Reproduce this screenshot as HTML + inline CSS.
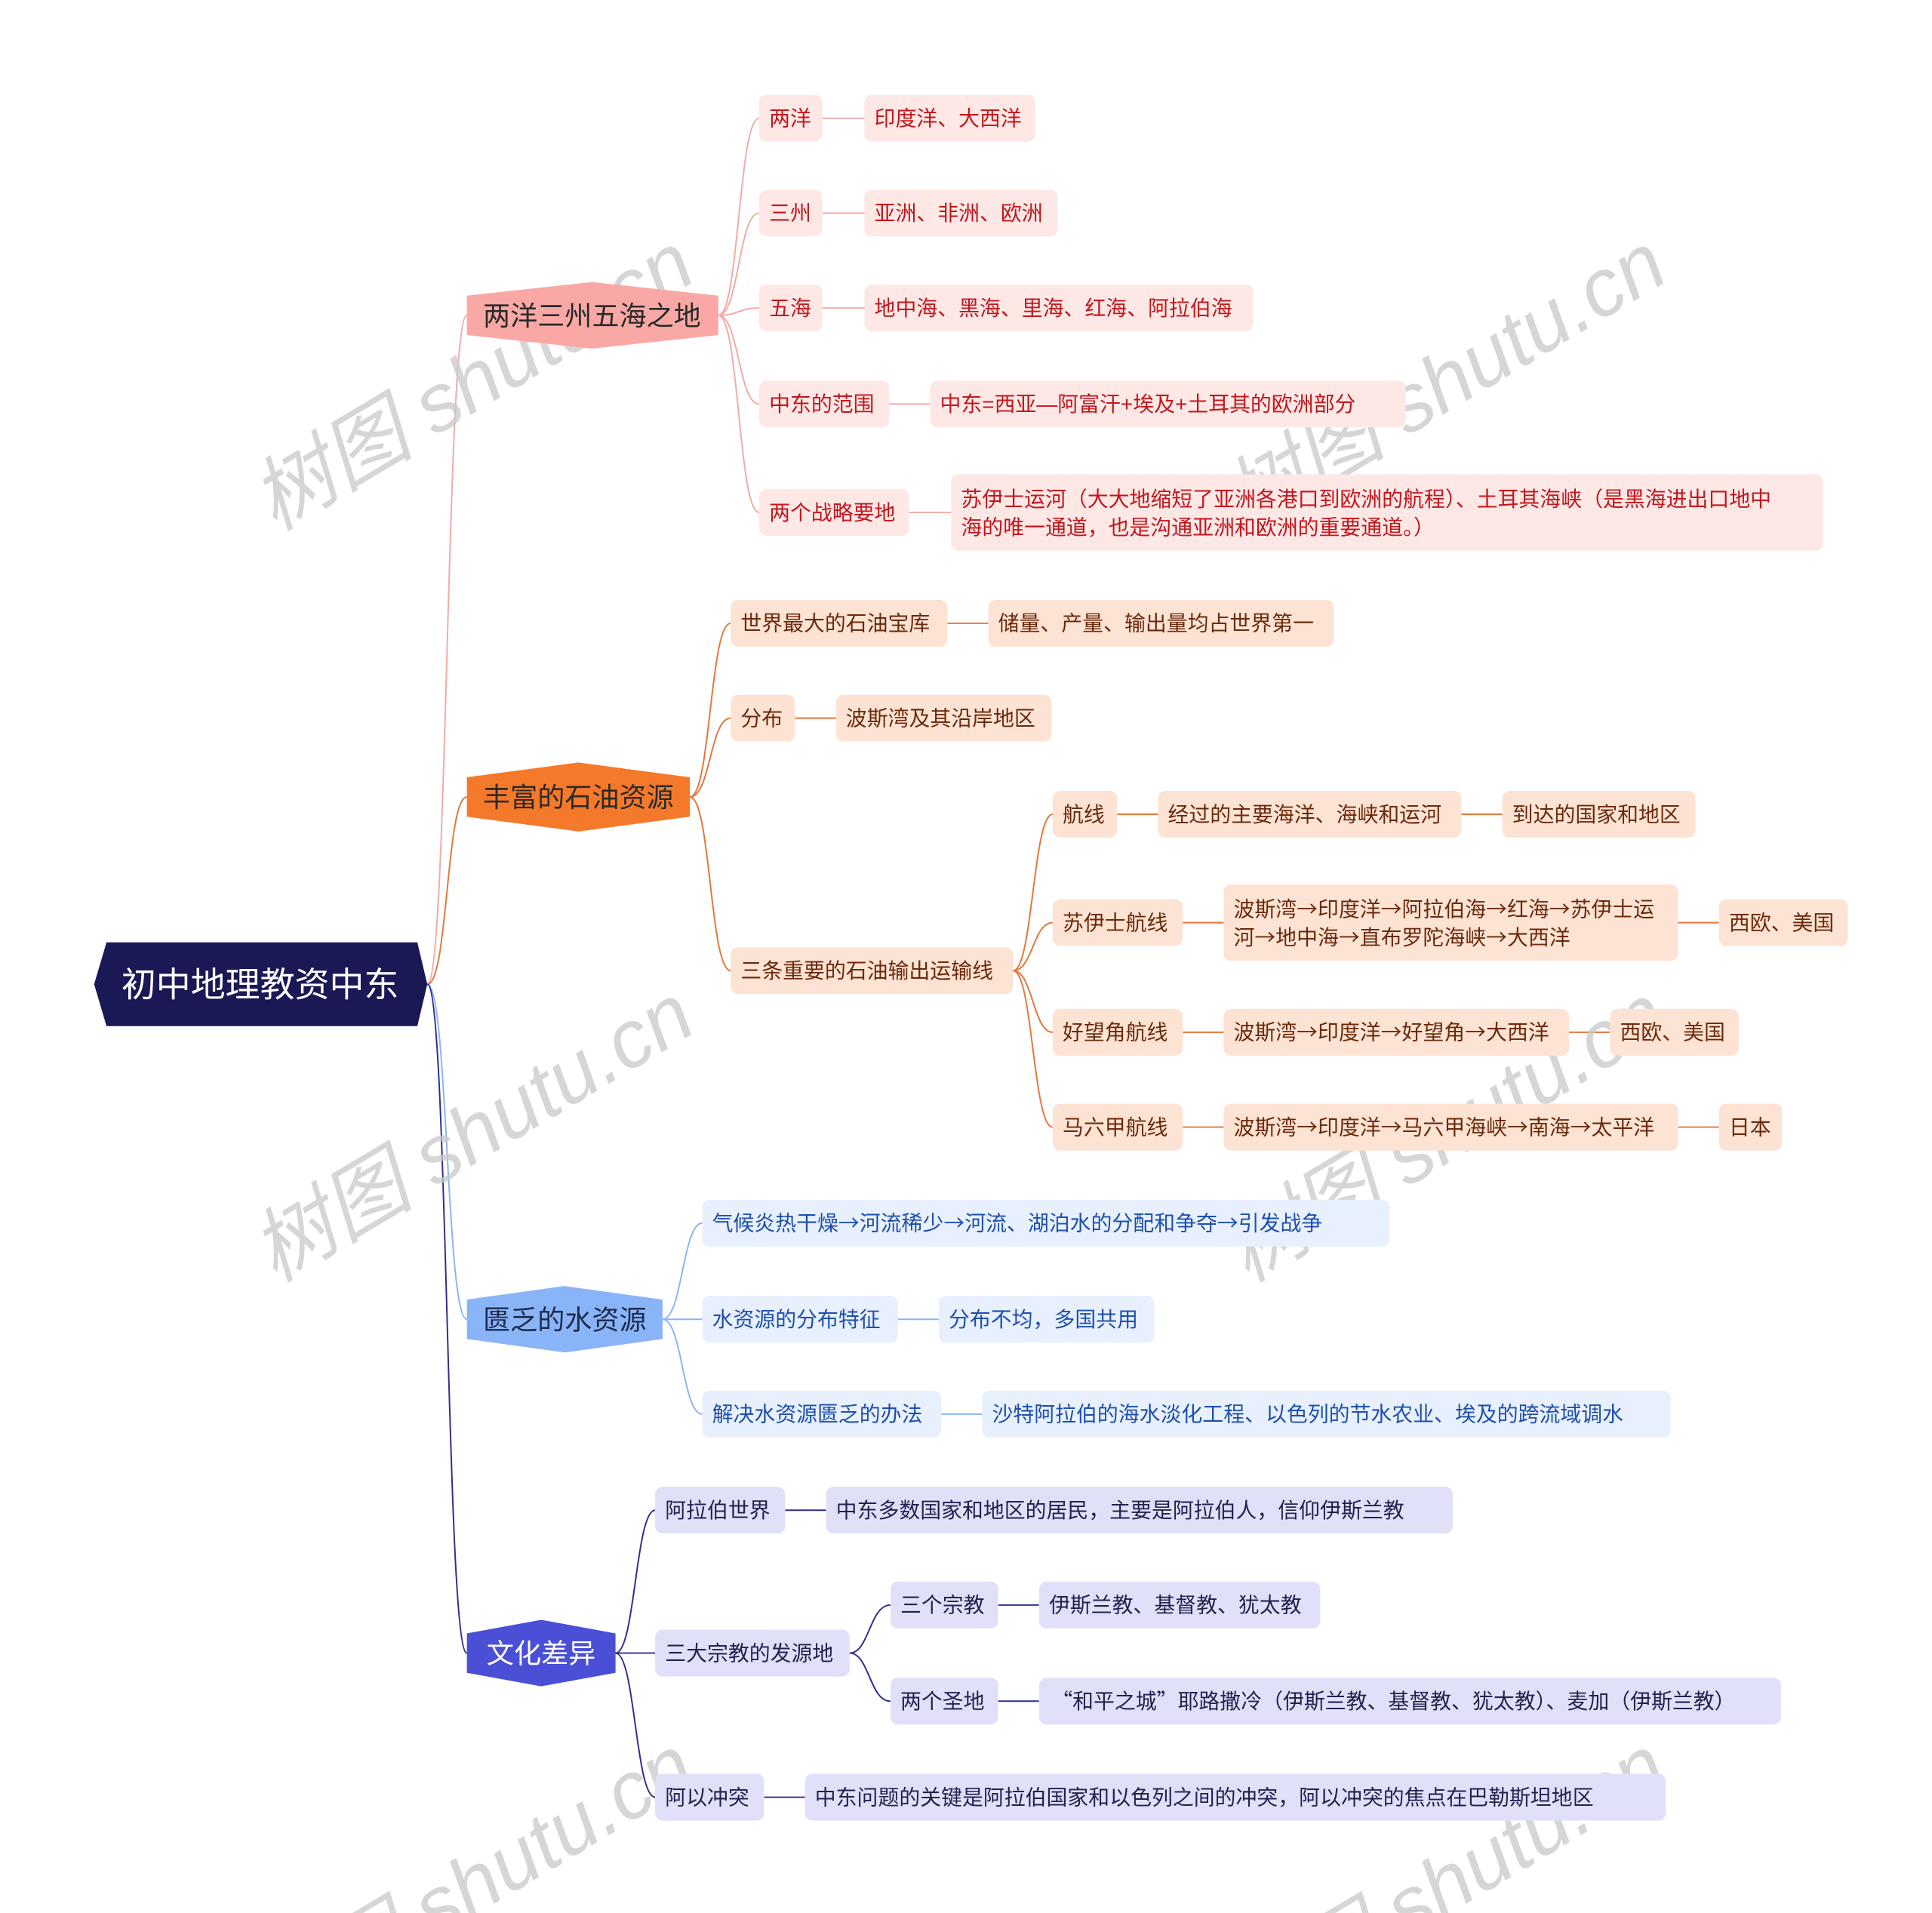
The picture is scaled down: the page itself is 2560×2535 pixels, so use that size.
<!DOCTYPE html>
<html><head><meta charset="utf-8"><style>
html,body{margin:0;padding:0;background:#fff;width:2560px;height:2535px;overflow:hidden;}
svg{display:block;overflow:hidden;}
text{font-family:"Liberation Sans","Noto Sans CJK SC",sans-serif;}
.cj{font-family:"Noto Sans CJK SC",sans-serif;}
</style></head><body>
<svg width="2560" height="2535" viewBox="0 0 1560 1553" preserveAspectRatio="none" xmlns="http://www.w3.org/2000/svg">
<g fill="none" stroke-width="1.2">
<path d="M345,799 C362,799 360,256 377,256" stroke="#f4aaa6"/>
<path d="M345,799 C362,799 360,647 377,647" stroke="#e5763a"/>
<path d="M345,799 C362,799 360,1071 377,1071" stroke="#8ab4f8"/>
<path d="M345,799 C362,799 360,1342 377,1342" stroke="#2e2e90"/>
<g stroke="#f4aaa6">
<path d="M580,256 C597,256 596,96 613,96"/>
<path d="M580,256 C597,256 596,173 613,173"/>
<path d="M580,256 C597,256 596,250 613,250"/>
<path d="M580,256 C597,256 596,328 613,328"/>
<path d="M580,256 C597,256 596,416 613,416"/>
<path d="M664,96 H698 M664,173 H698 M664,250 H698 M718,328 H751 M734,416 H768"/>
</g>
<g stroke="#e5763a">
<path d="M557,647 C574,647 573,506 590,506"/>
<path d="M557,647 C574,647 573,583 590,583"/>
<path d="M557,647 C574,647 573,788 590,788"/>
<path d="M765,506 H798 M642,583 H675"/>
<path d="M818,788 C834,788 834,661 850,661"/>
<path d="M818,788 C834,788 834,749 850,749"/>
<path d="M818,788 C834,788 834,838 850,838"/>
<path d="M818,788 C834,788 834,915 850,915"/>
<path d="M902,661 H935 M1180,661 H1213 M955,749 H988 M1355,749 H1388 M955,838 H988 M1267,838 H1300 M955,915 H988 M1355,915 H1388"/>
</g>
<g stroke="#8ab4f8">
<path d="M535,1071 C551,1071 551,993 567,993"/>
<path d="M535,1071 H567"/>
<path d="M535,1071 C551,1071 551,1148 567,1148"/>
<path d="M725,1071 H758 M760,1148 H793"/>
</g>
<g stroke="#2e2e90">
<path d="M497,1342 C513,1342 513,1226 529,1226"/>
<path d="M497,1342 H529"/>
<path d="M497,1342 C513,1342 513,1459 529,1459"/>
<path d="M686,1342 C702,1342 702,1303 719,1303"/>
<path d="M686,1342 C702,1342 702,1381 719,1381"/>
<path d="M634,1226 H667 M806,1303 H839 M806,1381 H839 M617,1459 H650"/>
</g>
</g>

<g fill="#c8c8c8" opacity="0.75" font-family="'Liberation Serif','Noto Serif CJK SC',serif" font-size="66" font-style="italic">
<text transform="translate(222,432) rotate(-31)">树图 shutu.cn</text>
<text transform="translate(222,1042) rotate(-31)">树图 shutu.cn</text>
<text transform="translate(1007,432) rotate(-31)">树图 shutu.cn</text>
<text transform="translate(1007,1042) rotate(-31)">树图 shutu.cn</text>
<text transform="translate(222,1652) rotate(-31)">树图 shutu.cn</text>
<text transform="translate(1007,1652) rotate(-31)">树图 shutu.cn</text>
</g>

<polygon points="76,799 86,765 337,765 345,799 337,833 86,833" fill="#1b1856"/>
<text x="210" y="809" font-size="28" fill="#fff" text-anchor="middle">初中地理教资中东</text>

<polygon points="377,240 478,229 580,240 580,272 478,283 377,272" fill="#f9a8a5"/>
<text x="478" y="264" font-size="22" fill="#2a2a2a" text-anchor="middle">两洋三州五海之地</text>
<polygon points="377,631 467,619 557,631 557,663 467,675 377,663" fill="#f5792a"/>
<text x="467" y="655" font-size="22" fill="#2a2a2a" text-anchor="middle">丰富的石油资源</text>
<polygon points="377,1055 456,1044 535,1055 535,1087 456,1098 377,1087" fill="#8ab4f8"/>
<text x="456" y="1079" font-size="22" fill="#1e2a4a" text-anchor="middle">匮乏的水资源</text>
<polygon points="377,1326 437,1315 497,1326 497,1358 437,1369 377,1358" fill="#4a4fd6"/>
<text x="437" y="1350" font-size="22" fill="#fff" text-anchor="middle">文化差异</text>

<g font-size="17" fill="#c4161c">
<rect x="613" y="77" width="51" height="38" rx="6" fill="#fde8e6"/><text x="621" y="102">两洋</text>
<rect x="698" y="77" width="138" height="38" rx="6" fill="#fde8e6"/><text x="706" y="102">印度洋、大西洋</text>
<rect x="613" y="154" width="51" height="38" rx="6" fill="#fde8e6"/><text x="621" y="179">三州</text>
<rect x="698" y="154" width="156" height="38" rx="6" fill="#fde8e6"/><text x="706" y="179">亚洲、非洲、欧洲</text>
<rect x="613" y="231" width="51" height="38" rx="6" fill="#fde8e6"/><text x="621" y="256">五海</text>
<rect x="698" y="231" width="314" height="38" rx="6" fill="#fde8e6"/><text x="706" y="256">地中海、黑海、里海、红海、阿拉伯海</text>
<rect x="613" y="309" width="105" height="38" rx="6" fill="#fde8e6"/><text x="621" y="334">中东的范围</text>
<rect x="751" y="309" width="384" height="38" rx="6" fill="#fde8e6"/><text x="759" y="334">中东=西亚—阿富汗+埃及+土耳其的欧洲部分</text>
<rect x="613" y="397" width="121" height="38" rx="6" fill="#fde8e6"/><text x="621" y="422">两个战略要地</text>
<rect x="768" y="385" width="704" height="62" rx="6" fill="#fde8e6"/><text x="776" y="411" class="cj">苏伊士运河（大大地缩短了亚洲各港口到欧洲的航程）、土耳其海峡（是黑海进出口地中</text><text x="776" y="434" class="cj">海的唯一通道，也是沟通亚洲和欧洲的重要通道。）</text>
</g>

<g font-size="17" fill="#6b2a0c">
<rect x="590" y="487" width="175" height="38" rx="6" fill="#fde3d3"/><text x="598" y="512">世界最大的石油宝库</text>
<rect x="798" y="487" width="279" height="38" rx="6" fill="#fde3d3"/><text x="806" y="512">储量、产量、输出量均占世界第一</text>
<rect x="590" y="564" width="52" height="38" rx="6" fill="#fde3d3"/><text x="598" y="589">分布</text>
<rect x="675" y="564" width="174" height="38" rx="6" fill="#fde3d3"/><text x="683" y="589">波斯湾及其沿岸地区</text>
<rect x="590" y="769" width="228" height="38" rx="6" fill="#fde3d3"/><text x="598" y="794">三条重要的石油输出运输线</text>
<rect x="850" y="642" width="52" height="38" rx="6" fill="#fde3d3"/><text x="858" y="667">航线</text>
<rect x="935" y="642" width="245" height="38" rx="6" fill="#fde3d3"/><text x="943" y="667">经过的主要海洋、海峡和运河</text>
<rect x="1213" y="642" width="156" height="38" rx="6" fill="#fde3d3"/><text x="1221" y="667">到达的国家和地区</text>
<rect x="850" y="730" width="105" height="38" rx="6" fill="#fde3d3"/><text x="858" y="755">苏伊士航线</text>
<rect x="988" y="718" width="367" height="62" rx="6" fill="#fde3d3"/><text x="996" y="744" class="cj">波斯湾→印度洋→阿拉伯海→红海→苏伊士运</text><text x="996" y="767" class="cj">河→地中海→直布罗陀海峡→大西洋</text>
<rect x="1388" y="730" width="104" height="38" rx="6" fill="#fde3d3"/><text x="1396" y="755">西欧、美国</text>
<rect x="850" y="819" width="105" height="38" rx="6" fill="#fde3d3"/><text x="858" y="844">好望角航线</text>
<rect x="988" y="819" width="279" height="38" rx="6" fill="#fde3d3"/><text x="996" y="844" class="cj">波斯湾→印度洋→好望角→大西洋</text>
<rect x="1300" y="819" width="104" height="38" rx="6" fill="#fde3d3"/><text x="1308" y="844">西欧、美国</text>
<rect x="850" y="896" width="105" height="38" rx="6" fill="#fde3d3"/><text x="858" y="921">马六甲航线</text>
<rect x="988" y="896" width="367" height="38" rx="6" fill="#fde3d3"/><text x="996" y="921" class="cj">波斯湾→印度洋→马六甲海峡→南海→太平洋</text>
<rect x="1388" y="896" width="51" height="38" rx="6" fill="#fde3d3"/><text x="1396" y="921">日本</text>
</g>

<g font-size="17" fill="#1d4fae">
<rect x="567" y="974" width="555" height="38" rx="6" fill="#e8f0fe"/><text x="575" y="999" class="cj">气候炎热干燥→河流稀少→河流、湖泊水的分配和争夺→引发战争</text>
<rect x="567" y="1052" width="158" height="38" rx="6" fill="#e8f0fe"/><text x="575" y="1077">水资源的分布特征</text>
<rect x="758" y="1052" width="174" height="38" rx="6" fill="#e8f0fe"/><text x="766" y="1077">分布不均，多国共用</text>
<rect x="567" y="1129" width="193" height="38" rx="6" fill="#e8f0fe"/><text x="575" y="1154">解决水资源匮乏的办法</text>
<rect x="793" y="1129" width="556" height="38" rx="6" fill="#e8f0fe"/><text x="801" y="1154">沙特阿拉伯的海水淡化工程、以色列的节水农业、埃及的跨流域调水</text>
</g>

<g font-size="17" fill="#22224f">
<rect x="529" y="1207" width="105" height="38" rx="6" fill="#e0e1f8"/><text x="537" y="1232">阿拉伯世界</text>
<rect x="667" y="1207" width="506" height="38" rx="6" fill="#e0e1f8"/><text x="675" y="1232">中东多数国家和地区的居民，主要是阿拉伯人，信仰伊斯兰教</text>
<rect x="529" y="1323" width="157" height="38" rx="6" fill="#e0e1f8"/><text x="537" y="1348">三大宗教的发源地</text>
<rect x="719" y="1284" width="87" height="38" rx="6" fill="#e0e1f8"/><text x="727" y="1309">三个宗教</text>
<rect x="839" y="1284" width="227" height="38" rx="6" fill="#e0e1f8"/><text x="847" y="1309">伊斯兰教、基督教、犹太教</text>
<rect x="719" y="1362" width="87" height="38" rx="6" fill="#e0e1f8"/><text x="727" y="1387">两个圣地</text>
<rect x="839" y="1362" width="599" height="38" rx="6" fill="#e0e1f8"/><text x="849" y="1387" class="cj">“和平之城”耶路撒冷（伊斯兰教、基督教、犹太教）、麦加（伊斯兰教）</text>
<rect x="529" y="1440" width="88" height="38" rx="6" fill="#e0e1f8"/><text x="537" y="1465">阿以冲突</text>
<rect x="650" y="1440" width="695" height="38" rx="6" fill="#e0e1f8"/><text x="658" y="1465">中东问题的关键是阿拉伯国家和以色列之间的冲突，阿以冲突的焦点在巴勒斯坦地区</text>
</g>
</svg>
</body></html>
